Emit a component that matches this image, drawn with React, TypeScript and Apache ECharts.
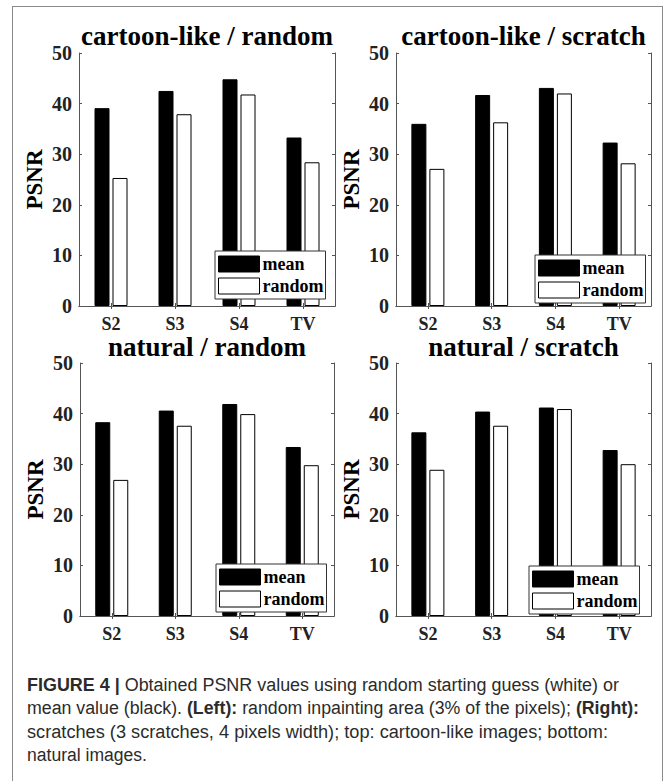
import React, { useEffect, useRef } from "react";
import * as echarts from "echarts";

// ---------- data ----------
const categories = ["S2", "S3", "S4", "TV"];
const seriesNames = ["mean", "random"];
const panelTitles = [
  "cartoon-like / random",
  "cartoon-like / scratch",
  "natural / random",
  "natural / scratch",
];
const cartoonRandomMean = [39.1, 42.5, 44.8, 33.3];
const cartoonRandomRandom = [25.3, 37.9, 41.8, 28.4];
const cartoonScratchMean = [36.0, 41.7, 43.1, 32.3];
const cartoonScratchRandom = [27.1, 36.3, 42.0, 28.2];
const naturalRandomMean = [38.3, 40.6, 41.9, 33.4];
const naturalRandomRandom = [26.9, 37.6, 39.9, 29.8];
const naturalScratchMean = [36.3, 40.4, 41.2, 32.8];
const naturalScratchRandom = [28.9, 37.6, 40.9, 30.0];
const yMin = 0;
const yMax = 50;
const yStep = 10;
const yAxisName = "PSNR";

const captionLines: { t: string; b?: boolean }[][] = [
  [{ t: "FIGURE 4 | ", b: true }, { t: "Obtained PSNR values using random starting guess (white) or" }],
  [
    { t: "mean value (black). " },
    { t: "(Left):", b: true },
    { t: " random inpainting area (3% of the pixels); " },
    { t: "(Right):", b: true },
  ],
  [{ t: "scratches (3 scratches, 4 pixels width); top: cartoon-like images; bottom:" }],
  [{ t: "natural images." }],
];

// ---------- layout ----------
const panelMeans = [cartoonRandomMean, cartoonScratchMean, naturalRandomMean, naturalScratchMean];
const panelRandoms = [cartoonRandomRandom, cartoonScratchRandom, naturalRandomRandom, naturalScratchRandom];
const grids = [
  { left: 79, top: 53, width: 256, height: 253 },
  { left: 396, top: 53, width: 255, height: 253 },
  { left: 80, top: 363, width: 254, height: 253 },
  { left: 396, top: 363, width: 255, height: 253 },
];
const legendPos = [
  { left: 215, top: 251 },
  { left: 535, top: 255 },
  { left: 216, top: 564 },
  { left: 529, top: 566 },
];
const titleTops = [25, 336];
const captionWidths = [592, 612, 581, 120];

const SERIF = "'Liberation Serif', 'Times New Roman', serif";
const AXIS_COLOR = "#555";
const LABEL_COLOR = "#222";

function buildOption() {
  const xAxis: any[] = [];
  const yAxis: any[] = [];
  const series: any[] = [];
  const legend: any[] = [];
  const title: any[] = [];

  grids.forEach((g, i) => {
    const axisLine = { show: true, lineStyle: { color: AXIS_COLOR, width: 1 } };
    const tick = { show: true, inside: true, length: 3, lineStyle: { color: AXIS_COLOR } };
    xAxis.push({
      type: "category",
      gridIndex: i,
      position: "bottom",
      data: categories,
      axisLine,
      axisTick: { ...tick, alignWithLabel: true },
      axisLabel: {
        margin: 12,
        fontFamily: SERIF,
        fontWeight: "bold",
        fontSize: 18,
        lineHeight: 12,
        color: LABEL_COLOR,
      },
      splitLine: { show: false },
    });
    xAxis.push({
      type: "category",
      gridIndex: i,
      position: "top",
      data: categories,
      axisLine,
      axisTick: { ...tick, alignWithLabel: true },
      axisLabel: { show: false },
      splitLine: { show: false },
    });
    yAxis.push({
      type: "value",
      gridIndex: i,
      position: "left",
      min: yMin,
      max: yMax,
      interval: yStep,
      axisLine,
      axisTick: tick,
      splitLine: { show: false },
      axisLabel: {
        margin: 7,
        fontFamily: SERIF,
        fontWeight: "bold",
        fontSize: 20,
        color: LABEL_COLOR,
      },
      name: yAxisName,
      nameLocation: "middle",
      nameGap: 33,
      nameTextStyle: {
        fontFamily: SERIF,
        fontWeight: "bold",
        fontSize: 23,
        color: "#000",
      },
    });
    yAxis.push({
      type: "value",
      gridIndex: i,
      position: "right",
      min: yMin,
      max: yMax,
      interval: yStep,
      axisLine,
      axisTick: tick,
      splitLine: { show: false },
      axisLabel: { show: false },
    });

    series.push({
      type: "bar",
      name: seriesNames[0],
      xAxisIndex: 2 * i,
      yAxisIndex: 2 * i,
      data: panelMeans[i],
      barWidth: 15,
      barGap: "20%",
      itemStyle: { color: "#000", borderColor: "#000", borderWidth: 1 },
    });
    series.push({
      type: "bar",
      name: seriesNames[1],
      xAxisIndex: 2 * i,
      yAxisIndex: 2 * i,
      data: panelRandoms[i],
      barWidth: 15,
      barGap: "20%",
      itemStyle: { color: "#fff", borderColor: "#000", borderWidth: 1 },
    });

    legend.push({
      orient: "vertical",
      left: legendPos[i].left,
      top: legendPos[i].top,
      itemWidth: 41,
      itemHeight: 16,
      itemGap: 4,
      padding: [4, 2, 4, 3],
      borderColor: "#333",
      borderWidth: 1,
      backgroundColor: "#fff",
      selectedMode: false,
      textStyle: {
        fontFamily: SERIF,
        fontWeight: "bold",
        fontSize: 18,
        lineHeight: 17,
        color: "#000",
        padding: [0, 0, 0, -2],
      },
      data: [
        { name: seriesNames[0], icon: "rect", itemStyle: { color: "#000", borderColor: "#000", borderWidth: 1 } },
        { name: seriesNames[1], icon: "rect", itemStyle: { color: "#fff", borderColor: "#000", borderWidth: 1 } },
      ],
    });

    title.push({
      text: panelTitles[i],
      left: g.left + g.width / 2,
      top: titleTops[i < 2 ? 0 : 1],
      textAlign: "center",
      padding: 0,
      textStyle: {
        fontFamily: SERIF,
        fontWeight: "bold",
        fontSize: 27,
        lineHeight: 22,
        color: "#000",
      },
    });
  });

  return {
    animation: false,
    backgroundColor: "transparent",
    grid: grids.map((g) => ({ ...g, containLabel: false })),
    xAxis,
    yAxis,
    series,
    legend,
    title,
  };
}

export default function App() {
  const chartRef = useRef<HTMLDivElement | null>(null);
  const lineRefs = useRef<(HTMLSpanElement | null)[]>([]);

  useEffect(() => {
    const chart = echarts.init(chartRef.current as HTMLDivElement, null, { renderer: "svg" });
    chart.setOption(buildOption() as any);

    const fit = () => {
      lineRefs.current.forEach((el, i) => {
        if (!el) return;
        el.style.transform = "none";
        const w = el.getBoundingClientRect().width;
        if (w > 0) el.style.transform = `scaleX(${captionWidths[i] / w})`;
      });
    };
    fit();
    if ((document as any).fonts && (document as any).fonts.ready) {
      (document as any).fonts.ready.then(fit);
    }
    return () => {
      chart.dispose();
    };
  }, []);

  return (
    <div
      style={{
        position: "absolute",
        left: 0,
        top: 0,
        width: 667,
        height: 781,
        background: "#fff",
        overflow: "hidden",
      }}
    >
      <div
        style={{
          position: "absolute",
          left: 12,
          top: 6,
          width: 651,
          height: 800,
          border: "1px solid #8a8a8a",
          boxSizing: "border-box",
        }}
      />
      <div
        ref={chartRef}
        style={{ position: "absolute", left: 0, top: 0, width: 667, height: 660 }}
      />
      <div
        style={{
          position: "absolute",
          left: 26.5,
          top: 673.5,
          fontFamily: "'Liberation Sans', Arial, sans-serif",
          fontSize: 18,
          lineHeight: "23.5px",
          color: "#2b2b2b",
        }}
      >
        {captionLines.map((line, i) => (
          <div key={i} style={{ height: 23.5, whiteSpace: "nowrap" }}>
            <span
              ref={(el) => {
                lineRefs.current[i] = el;
              }}
              style={{ display: "inline-block", transformOrigin: "0 0", whiteSpace: "pre" }}
            >
              {line.map((seg, j) => (
                <span key={j} style={{ fontWeight: seg.b ? 700 : 400 }}>
                  {seg.t}
                </span>
              ))}
            </span>
          </div>
        ))}
      </div>
    </div>
  );
}
